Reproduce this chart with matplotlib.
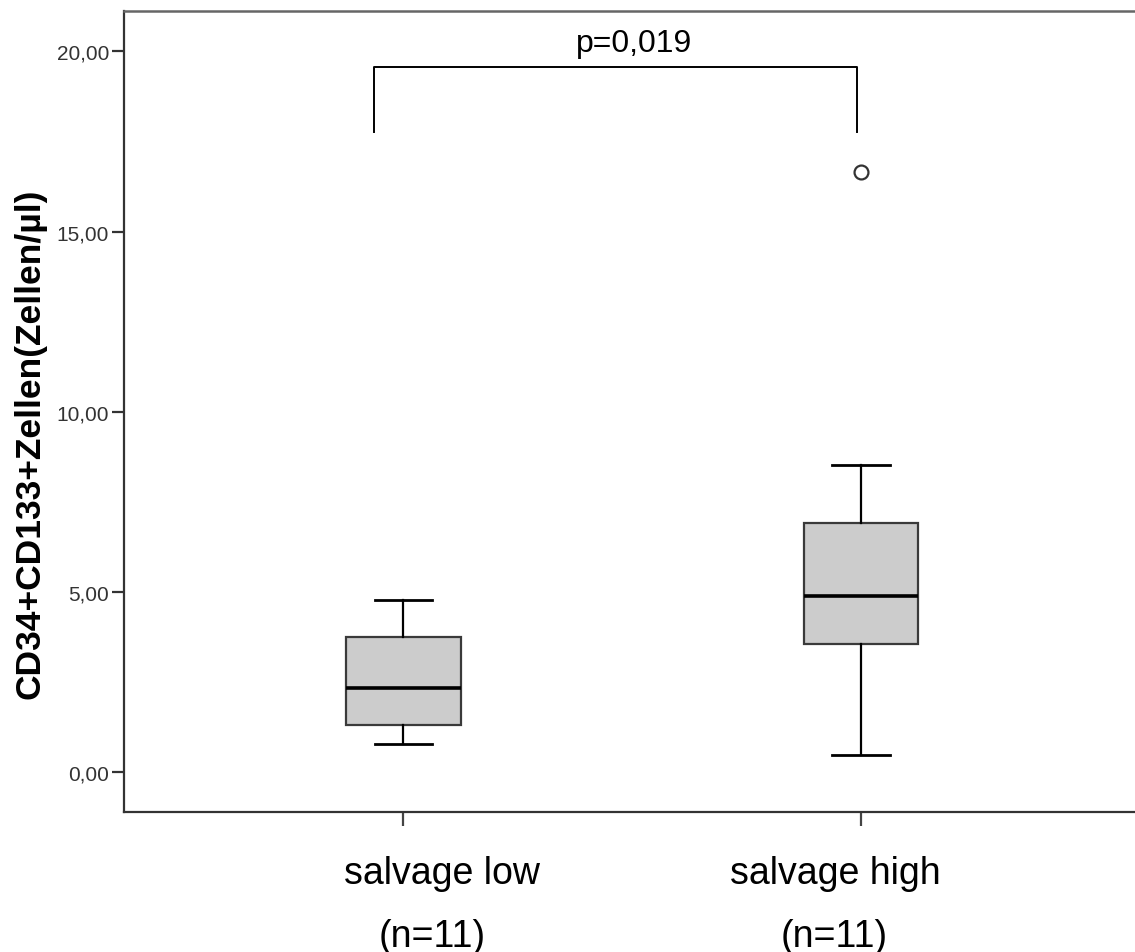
import matplotlib
matplotlib.use("Agg")
import matplotlib.pyplot as plt

plt.rcParams['font.family'] = ['Liberation Sans', 'DejaVu Sans']

# ---- data ----
groups = ["salvage low", "salvage high"]
n_labels = ["(n=11)", "(n=11)"]
whisker_low = [0.785, 0.48]
q1 = [1.31, 3.56]
median = [2.33, 4.88]
q3 = [3.74, 6.92]
whisker_high = [4.79, 8.53]
outliers = [[], [16.64]]
p_text = "p=0,019"
bracket_top = 19.56
bracket_bottom = 17.77
y_ticks = [0, 5, 10, 15, 20]
y_ticklabels = ["0,00", "5,00", "10,00", "15,00", "20,00"]
y_label = "CD34+CD133+Zellen(Zellen/µl)"

W, H = 1135, 953
fig = plt.figure(figsize=(W / 100, H / 100), dpi=100)
ax_left = 124.3 / W
ax_bottom = (H - 813.3) / H
ax_top = (H - 12.3) / H
ax = fig.add_axes([ax_left, ax_bottom, 1.0 - ax_left, ax_top - ax_bottom])

positions = [1, 2]
stats = []
for i, g in enumerate(groups):
    stats.append(dict(label=g, whislo=whisker_low[i], q1=q1[i], med=median[i],
                      q3=q3[i], whishi=whisker_high[i], fliers=outliers[i]))

ax.bxp(stats, positions=positions, widths=0.25, capwidths=0.125,
       patch_artist=True, showfliers=True,
       boxprops=dict(facecolor="#cccccc", edgecolor="#3a3a3a", linewidth=1.6),
       medianprops=dict(color="black", linewidth=2.6),
       whiskerprops=dict(color="black", linewidth=1.6),
       capprops=dict(color="black", linewidth=2.0),
       flierprops=dict(marker="o", markerfacecolor="white", markeredgecolor="#333333",
                       markersize=10, markeredgewidth=1.6))

ax.set_xlim(0.39, 2 + (W - 861.0) / 457.6)
ax.set_ylim((773.3 - 813.3) / 36.05, (773.3 - 12.3) / 36.05)

ax.set_yticks(y_ticks)
ax.set_yticklabels(y_ticklabels, fontsize=15, color="#333333")
ax.set_xticks(positions)
ax.set_xticklabels(["", ""])
ax.tick_params(axis="y", direction="out", length=9, width=1.6, color="#333333", pad=2)
ax.tick_params(axis="x", direction="out", length=10, width=1.6, color="#444444")

for s in ["left", "bottom"]:
    ax.spines[s].set_color("#333333")
    ax.spines[s].set_linewidth(1.6)
ax.spines["top"].set_color("#666666")
ax.spines["top"].set_linewidth(1.8)
ax.spines["right"].set_visible(False)

# significance bracket
bx_left = 1 - (403.4 - 374) / 457.6
bx_right = 2 - (861.0 - 857) / 457.6
ax.plot([bx_left, bx_left, bx_right, bx_right],
        [bracket_bottom, bracket_top, bracket_top, bracket_bottom],
        color="black", linewidth=1.4)
ax.text(1.505, 20.02, p_text, ha="center", va="baseline", fontsize=23, color="black")

# y label
fig.text(30 / W, (H - 444) / H, y_label, rotation=90, ha="center", va="center",
         fontsize=25.5, fontweight="bold", color="black")

# x labels
label_cx = [442 / W, 835 / W]
n_cx = [432 / W, 834 / W]
for i in range(2):
    fig.text(label_cx[i], (H - 884) / H, groups[i], ha="center", va="baseline",
             fontsize=27, color="black")
    fig.text(n_cx[i], (H - 947) / H, n_labels[i], ha="center", va="baseline",
             fontsize=27, color="black")

fig.savefig("out.png", dpi=100)
